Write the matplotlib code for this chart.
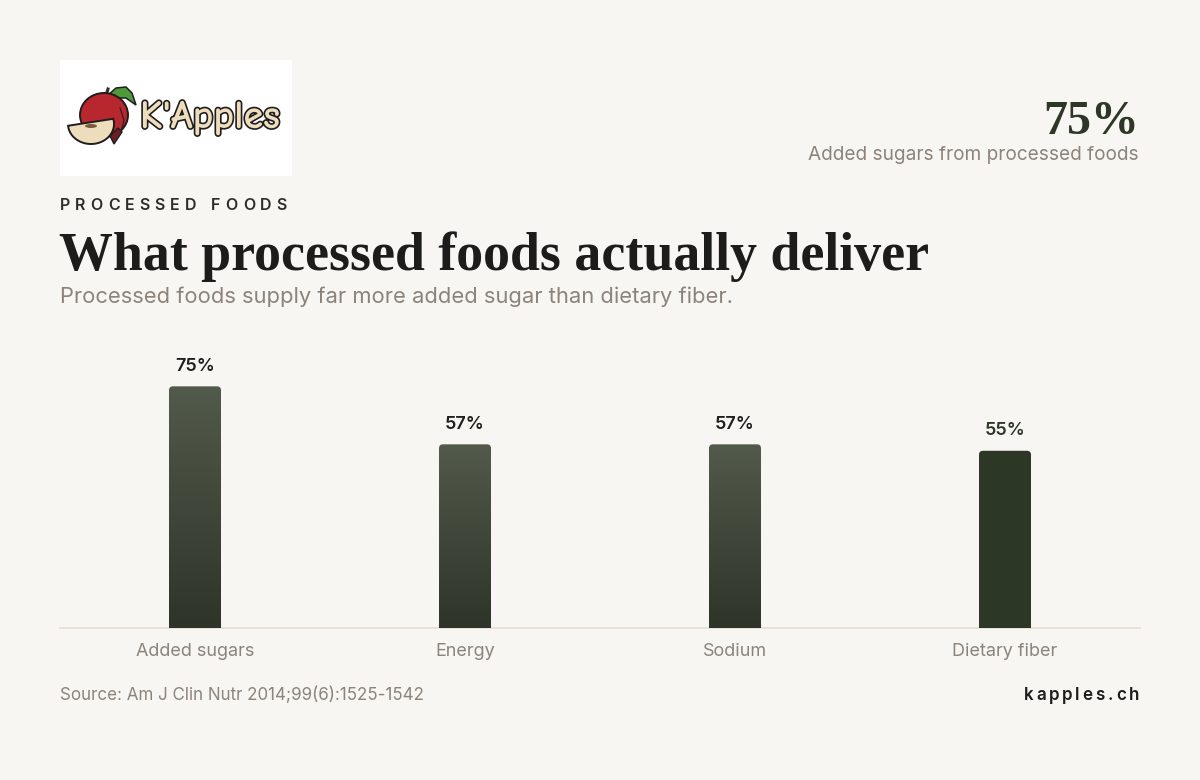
import matplotlib
matplotlib.use("Agg")
import matplotlib.pyplot as plt
import numpy as np
from matplotlib.path import Path
from matplotlib.patches import PathPatch, Ellipse, Polygon
import matplotlib.patheffects as pe
from matplotlib.transforms import IdentityTransform
from matplotlib.colors import LinearSegmentedColormap

# ---------------- data ----------------
categories = ["Added sugars", "Energy", "Sodium", "Dietary fiber"]
values = [75, 57, 57, 55]
value_labels = ["75%", "57%", "57%", "55%"]
highlight = [False, False, False, True]

eyebrow = "PROCESSED FOODS"
title = "What processed foods actually deliver"
subtitle = "Processed foods supply far more added sugar than dietary fiber."
kpi_value = "75%"
kpi_label = "Added sugars from processed foods"
source = "Source: Am J Clin Nutr 2014;99(6):1525-1542"
brand = "kapples.ch"
logo_text = "K'Apples"

# ---------------- style ----------------
W, H = 1200, 780
BG = "#F8F6F2"
DARK = "#1C1C1A"
GREEN = "#2D3726"
GRAY = "#8C837B"
SANS = ["Inter", "DejaVu Sans"]
SERIF = ["Liberation Serif", "DejaVu Serif"]

def px(v):
    return v * 0.72  # pixels -> points at dpi 100

fig = plt.figure(figsize=(W / 100, H / 100), dpi=100, facecolor=BG)
renderer = fig.canvas.get_renderer()

def fx(x):
    return x / W

def fy(y):
    return 1 - y / H

def fit(t, target_w):
    bb = t.get_window_extent(renderer)
    t.set_fontsize(t.get_fontsize() * target_w / bb.width)

def spaced_text(x, y, s, size, color, weight, spacing_px, ha="left"):
    widths = []
    for ch in s:
        t = fig.text(0, 0, ch if ch != " " else "n", fontsize=size, family=SANS, weight=weight)
        bb = t.get_window_extent(renderer)
        widths.append(bb.width if ch != " " else bb.width * 0.55)
        t.remove()
    total = sum(widths) + spacing_px * (len(s) - 1)
    cx = x if ha == "left" else x - total
    for ch, w in zip(s, widths):
        if ch != " ":
            fig.text(fx(cx), fy(y), ch, fontsize=size, family=SANS, weight=weight,
                     color=color, ha="left", va="center")
        cx += w + spacing_px

# ---------------- logo ----------------
lax = fig.add_axes([fx(60), fy(176), 232 / W, 116 / H])
lax.set_xlim(0, 232)
lax.set_ylim(116, 0)
lax.set_facecolor("white")
lax.set_xticks([]); lax.set_yticks([])
for s in lax.spines.values():
    s.set_visible(False)
# leaf and stem
lax.add_patch(Polygon([[47, 36], [56, 28], [66, 27], [72, 33], [76, 45], [66, 38], [54, 38]],
                      closed=True, facecolor="#4E9A3A", edgecolor="#1E1E1E", lw=1.1, zorder=2))
lax.plot([44, 48], [42, 29], color="#3B2A1E", lw=2.2, zorder=3)
# apple body
lax.add_patch(Ellipse((44, 55), 48, 44, facecolor="#B8262E", edgecolor="#1E1E1E", lw=1.4, zorder=4))
lax.plot([60, 64, 61], [48, 60, 72], color="#1E1E1E", lw=0.8, zorder=5)
# slice
theta = np.linspace(np.deg2rad(-15), np.deg2rad(175), 60)
sx = 31 + 23 * np.cos(theta)
sy = 64 + 20 * np.sin(theta)
lax.add_patch(Polygon(np.column_stack([sx, sy]), closed=True, facecolor="#EEDDBC",
                      edgecolor="#1E1E1E", lw=1.4, zorder=6))
lax.add_patch(Polygon([[50, 76], [58, 68], [62, 72], [54, 84]], closed=True, facecolor="#6E1E22",
                      edgecolor="#1E1E1E", lw=1, zorder=5))
lax.add_patch(Ellipse((31, 66), 12, 4, facecolor="#7A5A3A", edgecolor="none", zorder=7))
lt = lax.text(150, 58, logo_text, fontsize=px(40), family=["Comic Neue", "Lato", "DejaVu Sans"],
              weight="bold", color="#EEDDBC", ha="center", va="center", zorder=8,
              path_effects=[pe.withStroke(linewidth=2.4, foreground="#1E1E1E")])
fit(lt, 140)

# ---------------- header texts ----------------
spaced_text(60, 205, eyebrow, px(16), "#2A2F26", "semibold", 5.0)

t = fig.text(fx(59), fy(270), title, fontsize=px(56), family=SERIF, weight="bold",
             color=DARK, ha="left", va="baseline")
fit(t, 871)

t2 = fig.text(fx(60), fy(297), subtitle, fontsize=px(19), family=SANS, color=GRAY,
              ha="left", va="center")
fit(t2, 673)

k = fig.text(fx(1139), fy(134), kpi_value, fontsize=px(56), family=SERIF, weight="bold",
             color=GREEN, ha="right", va="baseline")
fit(k, 96)

k2 = fig.text(fx(1139), fy(155), kpi_label, fontsize=px(17), family=SANS, color=GRAY,
              ha="right", va="center")
fit(k2, 329)

# ---------------- chart ----------------
ax = fig.add_axes([fx(60), fy(628), 1080 / W, 290 / H])
ax.set_facecolor("none")
ax.set_xlim(-0.5, len(categories) - 0.5)
ax.set_ylim(0, 90)
for s in ax.spines.values():
    s.set_visible(False)
ax.set_yticks([])
ax.set_xticks(range(len(categories)))
ax.set_xticklabels(categories, fontsize=px(18), family=SANS, color=GRAY)
ax.tick_params(axis="x", length=0, pad=px(15))
ax.axhline(0, color="#E6DCD1", lw=1.2, zorder=1, clip_on=False)

bar_w = 52 / 270
bars = ax.bar(range(len(categories)), values, width=bar_w, color="none", zorder=2)

grad = np.linspace(0, 1, 256).reshape(-1, 1)
cmap = LinearSegmentedColormap.from_list("g", ["#525A4B", "#2F3428"])

fig.canvas.draw()
r = 4
for b, hl, lab in zip(bars, highlight, value_labels):
    x0, y0 = ax.transData.transform((b.get_x(), 0))
    x1, y1 = ax.transData.transform((b.get_x() + b.get_width(), b.get_height()))
    verts = [(x0, y0), (x0, y1 - r), (x0, y1), (x0 + r, y1), (x1 - r, y1), (x1, y1),
             (x1, y1 - r), (x1, y0), (x0, y0)]
    codes = [Path.MOVETO, Path.LINETO, Path.CURVE3, Path.CURVE3, Path.LINETO, Path.CURVE3,
             Path.CURVE3, Path.LINETO, Path.CLOSEPOLY]
    patch = PathPatch(Path(verts, codes), transform=IdentityTransform(),
                      facecolor=GREEN if hl else "none", edgecolor="none", zorder=3)
    ax.add_patch(patch)
    if not hl:
        im = ax.imshow(grad, cmap=cmap, aspect="auto", zorder=3,
                       extent=(b.get_x(), b.get_x() + b.get_width(), 0, b.get_height()),
                       origin="upper")
        im.set_clip_path(patch)
    ax.annotate(lab, (b.get_x() + b.get_width() / 2, b.get_height()), xytext=(0, px(20)),
                textcoords="offset points", ha="center", va="center", fontsize=px(18),
                family=SANS, weight="semibold", color=GREEN if hl else "#1E1E1C", zorder=4)

# ---------------- footer ----------------
f1 = fig.text(fx(60), fy(695), source, fontsize=px(15), family=SANS, color=GRAY,
              ha="left", va="center")
fit(f1, 364)
spaced_text(1139, 695, brand, px(17), DARK, "semibold", 2.8, ha="right")

fig.savefig("out.png", dpi=100, facecolor=BG)
